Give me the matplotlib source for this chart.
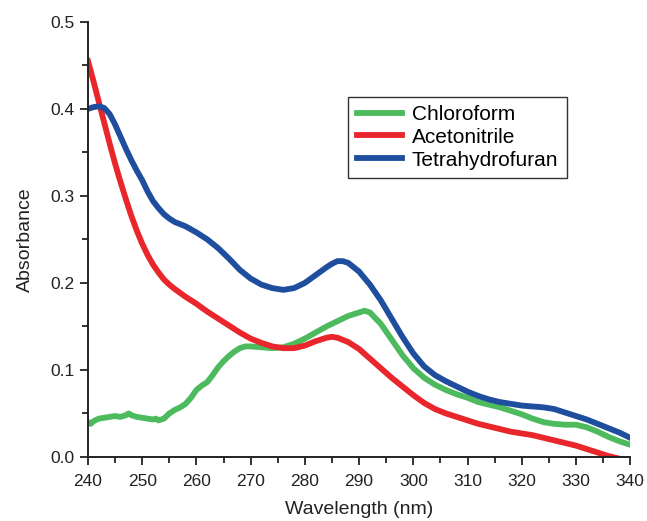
import numpy as np
import matplotlib
matplotlib.use('Agg')
import matplotlib.pyplot as plt
from matplotlib.ticker import MultipleLocator, FormatStrFormatter

plt.rcParams['font.family'] = ['Liberation Sans', 'DejaVu Sans']

# THF
wl_thf = [240, 241, 242, 243, 244, 245, 246, 247, 248, 249, 250, 251, 252, 253, 254, 255,
          256, 258, 260, 262, 264, 266, 268, 270, 272, 274, 276, 278, 280, 282, 284, 285,
          286, 287, 288, 290, 292, 294, 296, 298, 300, 302, 304, 306, 308, 310, 312, 314,
          316, 318, 320, 322, 324, 326, 328, 330, 332, 334, 336, 338, 340]
abs_thf = [0.400, 0.402, 0.403, 0.401, 0.394, 0.382, 0.368, 0.354, 0.341, 0.329, 0.318, 0.305,
           0.294, 0.286, 0.279, 0.274, 0.270, 0.265, 0.258, 0.250, 0.240, 0.228, 0.215, 0.205,
           0.198, 0.194, 0.192, 0.194, 0.200, 0.209, 0.218, 0.222, 0.225, 0.225, 0.223, 0.213,
           0.198, 0.180, 0.159, 0.138, 0.119, 0.104, 0.094, 0.087, 0.081, 0.075, 0.070, 0.066,
           0.063, 0.061, 0.059, 0.058, 0.057, 0.055, 0.051, 0.047, 0.043, 0.038, 0.033, 0.028,
           0.022]

# acetonitrile
wl_acn = [240, 241, 242, 243, 244, 245, 246, 247, 248, 249, 250, 251, 252, 253, 254, 255,
          256, 258, 260, 262, 264, 266, 268, 270, 272, 274, 276, 278, 280, 282, 284, 285,
          286, 288, 290, 292, 294, 296, 298, 300, 302, 304, 306, 308, 310, 312, 314, 316,
          318, 320, 322, 324, 326, 328, 330, 332, 334, 336, 338, 340]
abs_acn = [0.455, 0.432, 0.408, 0.384, 0.360, 0.337, 0.316, 0.296, 0.277, 0.260, 0.245, 0.232,
           0.221, 0.212, 0.204, 0.198, 0.193, 0.184, 0.176, 0.167, 0.159, 0.151, 0.143, 0.136,
           0.131, 0.127, 0.125, 0.125, 0.128, 0.133, 0.137, 0.138, 0.137, 0.132, 0.124, 0.113,
           0.102, 0.091, 0.081, 0.071, 0.062, 0.055, 0.050, 0.046, 0.042, 0.038, 0.035, 0.032,
           0.029, 0.027, 0.025, 0.022, 0.019, 0.016, 0.013, 0.009, 0.005, 0.001, -0.002, -0.005]

# chloroform
wl_chl = [240, 240.5, 241, 242, 243, 244, 245, 246, 247, 247.5, 248, 249, 250, 251, 252, 252.5,
          253, 254, 255, 256, 257, 258, 259, 260, 261, 262, 263, 264, 265, 266, 267, 268,
          269, 270, 272, 274, 276, 278, 280, 282, 284, 286, 288, 290, 291, 292, 294, 296,
          298, 300, 302, 304, 306, 308, 310, 312, 314, 316, 318, 320, 322, 324, 326, 328,
          330, 332, 334, 336, 338, 340]
abs_chl = [0.040, 0.038, 0.041, 0.044, 0.045, 0.046, 0.047, 0.046, 0.048, 0.050, 0.048, 0.046,
           0.045, 0.044, 0.043, 0.044, 0.042, 0.044, 0.050, 0.054, 0.057, 0.061, 0.068, 0.077,
           0.082, 0.086, 0.094, 0.103, 0.110, 0.116, 0.121, 0.125, 0.127, 0.127, 0.126, 0.125,
           0.126, 0.130, 0.136, 0.143, 0.150, 0.156, 0.162, 0.166, 0.168, 0.166, 0.153, 0.135,
           0.117, 0.102, 0.091, 0.083, 0.077, 0.072, 0.068, 0.063, 0.060, 0.057, 0.053, 0.049,
           0.044, 0.040, 0.038, 0.037, 0.037, 0.034, 0.029, 0.023, 0.018, 0.014]

fig = plt.figure(figsize=(6.47, 5.21), dpi=100)
ax = fig.add_axes([0.136, 0.123, 0.838, 0.835])

lw = 4.2
ax.plot(wl_chl, abs_chl, color='#4dba5e', lw=lw, label='Chloroform', solid_joinstyle='round')
ax.plot(wl_acn, abs_acn, color='#e8262b', lw=lw, label='Acetonitrile', solid_joinstyle='round')
ax.plot(wl_thf, abs_thf, color='#1f4e9e', lw=lw, label='Tetrahydrofuran', solid_joinstyle='round')

ax.set_xlim(240, 340)
ax.set_ylim(0, 0.5)
ax.xaxis.set_major_locator(MultipleLocator(10))
ax.xaxis.set_minor_locator(MultipleLocator(5))
ax.yaxis.set_major_locator(MultipleLocator(0.1))
ax.yaxis.set_minor_locator(MultipleLocator(0.05))
ax.yaxis.set_major_formatter(FormatStrFormatter('%.1f'))

for s in ['top', 'right']:
    ax.spines[s].set_visible(False)
for s in ['left', 'bottom']:
    ax.spines[s].set_linewidth(1.4)
    ax.spines[s].set_color('#222222')

ax.tick_params(which='major', direction='out', length=6, width=1.3, labelsize=12.5,
               colors='#222222')
ax.tick_params(axis='x', which='major', pad=6)
ax.tick_params(which='minor', direction='out', length=4, width=1.3, colors='#222222')

ax.set_xlabel('Wavelength (nm)', fontsize=14, color='#222222', labelpad=9)
ax.set_ylabel('Absorbance', fontsize=14, color='#222222', labelpad=12)

leg = ax.legend(loc='upper left', bbox_to_anchor=(0.48, 0.828), borderaxespad=0,
                fontsize=15, fancybox=False, framealpha=1, edgecolor='#333333',
                handlelength=2.2, handletextpad=0.45, labelspacing=0.18, borderpad=0.4)
leg.get_frame().set_linewidth(1.0)

fig.savefig('out.png', dpi=100)
